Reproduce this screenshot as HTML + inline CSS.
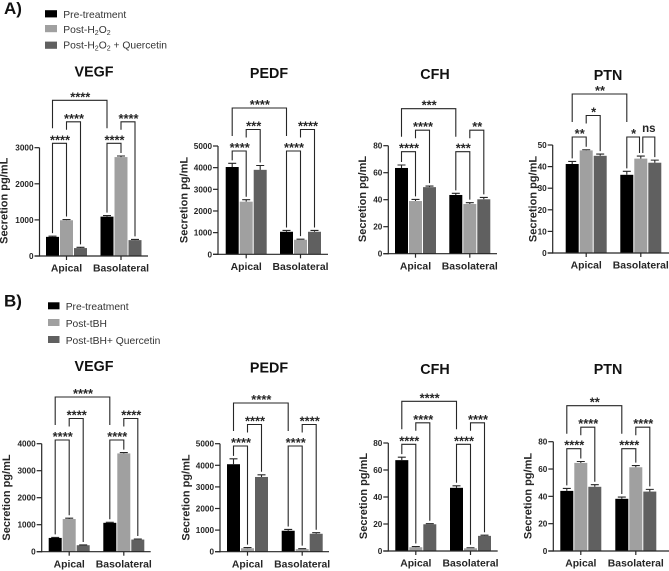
<!DOCTYPE html>
<html lang="en">
<head>
<meta charset="utf-8">
<title>Secretion charts</title>
<style>
  html, body { margin: 0; padding: 0; background: #fff; }
  #figure { display: block; filter: blur(0.3px); font-family: "Liberation Sans", sans-serif; }
</style>
</head>
<body>
<svg id="figure" xmlns="http://www.w3.org/2000/svg" width="669" height="571" viewBox="0 0 669 571">
  <rect x="0" y="0" width="669" height="571" fill="#fff"/>
  <text x="4" y="14" font-size="17" font-weight="bold" fill="#111">A)</text>
  <text x="4" y="306.5" font-size="17" font-weight="bold" fill="#111">B)</text>

  <g font-size="10.3" fill="#333">
    <g>
      <rect x="45" y="10.2" width="12" height="7.2" fill="#000"/>
      <text x="63.3" y="18">Pre-treatment</text>
    </g>
    <g>
      <rect x="45" y="25" width="12" height="7.2" fill="#a0a0a0"/>
      <text x="63.3" y="33">Post-H<tspan font-size="7" dy="2">2</tspan><tspan dy="-2">O</tspan><tspan font-size="7" dy="2">2</tspan></text>
    </g>
    <g>
      <rect x="45" y="41.6" width="12" height="7.2" fill="#606060"/>
      <text x="63.3" y="48.5">Post-H<tspan font-size="7" dy="2">2</tspan><tspan dy="-2">O</tspan><tspan font-size="7" dy="2">2</tspan><tspan dy="-2"> + Quercetin</tspan></text>
    </g>
  </g>

  <g font-size="10.3" fill="#333">
    <g>
      <rect x="48" y="302.3" width="11.5" height="7" fill="#000"/>
      <text x="65.7" y="310">Pre-treatment</text>
    </g>
    <g>
      <rect x="48" y="319" width="11.5" height="7" fill="#a0a0a0"/>
      <text x="65.7" y="326.8">Post-tBH</text>
    </g>
    <g>
      <rect x="48" y="336" width="11.5" height="7" fill="#606060"/>
      <text x="65.7" y="343.8">Post-tBH+ Quercetin</text>
    </g>
  </g>
</svg>

<script>
// Chart data
const groupLabels = ['Apical', 'Basolateral'];
const barColors = ['#000000', '#a0a0a0', '#606060'];
const yAxisTitle = 'Secretion pg/mL';

const aVegfValues = [530, 990, 220, 1090, 2740, 440];
const aVegfErrors = [20, 20, 20, 30, 30, 20];
const aVegfTicks = [0, 1000, 2000, 3000];
const aVegfStars = ['****', '****', '****', '****', '****'];

const aPedfValues = [4030, 2430, 3900, 1040, 670, 1040];
const aPedfErrors = [170, 90, 200, 60, 30, 60];
const aPedfTicks = [0, 1000, 2000, 3000, 4000, 5000];
const aPedfStars = ['****', '***', '****', '****', '****'];

const aCfhValues = [63.5, 39, 49.3, 43.5, 36.8, 40.3];
const aCfhErrors = [2.2, 1.2, 0.8, 1.2, 1, 1.4];
const aCfhTicks = [0, 20, 40, 60, 80];
const aCfhStars = ['****', '****', '***', '***', '**'];

const aPtnValues = [41.2, 47.5, 45, 36.2, 43.7, 41.8];
const aPtnErrors = [1.2, 0.3, 0.8, 1.6, 1.2, 1.2];
const aPtnTicks = [0, 10, 20, 30, 40, 50];
const aPtnStars = ['**', '*', '**', '*', 'ns'];

const bVegfValues = [510, 1210, 240, 1070, 3640, 450];
const bVegfErrors = [20, 30, 10, 20, 30, 20];
const bVegfTicks = [0, 1000, 2000, 3000, 4000];
const bVegfStars = ['****', '****', '****', '****', '****'];

const bPedfValues = [4050, 160, 3460, 970, 120, 830];
const bPedfErrors = [250, 30, 100, 60, 20, 50];
const bPedfTicks = [0, 1000, 2000, 3000, 4000, 5000];
const bPedfStars = ['****', '****', '****', '****', '****'];

const bCfhValues = [67.3, 2.8, 19.8, 46.8, 2, 11.2];
const bCfhErrors = [2.2, 0.5, 0.4, 1.5, 0.4, 0.5];
const bCfhTicks = [0, 20, 40, 60, 80];
const bCfhStars = ['****', '****', '****', '****', '****'];

const bPtnValues = [44, 64.5, 47, 38.2, 61.3, 43.5];
const bPtnErrors = [1.8, 1, 1.5, 1.3, 1.2, 1.6];
const bPtnTicks = [0, 20, 40, 60, 80];
const bPtnStars = ['****', '****', '**', '****', '****'];

const svg = document.getElementById('figure');
const NS = 'http://www.w3.org/2000/svg';
const BAR_W = 13;
const BAR_STEP = 14;
const TIER_GAP = 21.5;
const INK = '#262626';

function make(parent, tag, attrs, text) {
  const el = document.createElementNS(NS, tag);
  Object.keys(attrs).forEach(function (k) { el.setAttribute(k, attrs[k]); });
  if (text !== undefined) el.textContent = text;
  parent.appendChild(el);
  return el;
}

function drawPanel(p) {
  const g = make(svg, 'g', {});
  
  

  const top = p.ticks[p.ticks.length - 1];
  const yScale = function (v) { return p.y0 - (v / top) * (p.y0 - p.yTop); };
  const barLeft = function (i) { return (i < 3 ? p.g1 : p.g2) + (i % 3) * BAR_STEP; };
  const barCenter = function (i) { return barLeft(i) + BAR_W / 2; };

  // title
  const title = make(g, 'text', { x: p.titleX, y: p.titleY, 'text-anchor': 'middle', 'font-size': 14.3, 'font-weight': 'bold', fill: '#111' }, p.title);
  
  

  // y-axis title
  const yTitle = make(g, 'text', { transform: 'translate(' + p.yTitleX + ',' + p.yTitleY + ') rotate(-90)', 'text-anchor': 'middle', 'font-size': 11, 'font-weight': 'bold', fill: '#262626' }, yAxisTitle);
  
  

  // bars and error bars
  p.values.forEach(function (v, i) {
    const bar = make(g, 'rect', { x: barLeft(i), y: yScale(v), width: BAR_W, height: p.y0 - yScale(v), fill: barColors[i % 3] });
    
    

    const cx = barCenter(i);
    const errTop = yScale(v + p.errors[i]);
    const err = make(g, 'path', { d: 'M' + cx + ' ' + yScale(v) + 'V' + errTop + 'M' + (cx - 4) + ' ' + errTop + 'H' + (cx + 4), stroke: INK, 'stroke-width': 1.1, fill: 'none' });
    
    
  });

  // axes
  const yAxis = make(g, 'line', { x1: p.axisX, x2: p.axisX, y1: p.yTop, y2: p.y0 + 0.6, stroke: INK, 'stroke-width': 1.2 });
  
  
  const xAxis = make(g, 'line', { x1: p.axisX - 5, x2: p.axisEnd, y1: p.y0, y2: p.y0, stroke: INK, 'stroke-width': 1.2 });
  
  

  p.ticks.forEach(function (t) {
    const ty = yScale(t);
    const tick = make(g, 'line', { x1: p.axisX - 5, x2: p.axisX, y1: ty, y2: ty, stroke: INK, 'stroke-width': 1.2 });
    
    
    const label = make(g, 'text', { x: p.axisX - 6, y: ty + 3, 'text-anchor': 'end', 'font-size': 8.2, 'font-weight': 'bold', fill: '#262626' }, String(t));
    
    
  });

  groupLabels.forEach(function (name, gi) {
    const cx = barCenter(gi * 3 + 1);
    const tick = make(g, 'line', { x1: cx, x2: cx, y1: p.y0, y2: p.y0 + 4, stroke: INK, 'stroke-width': 1.2 });
    
    
    const label = make(g, 'text', { x: cx, y: p.y0 + 15.7, 'text-anchor': 'middle', 'font-size': 10.4, 'font-weight': 'bold', fill: '#262626' }, name);
    
    
  });

  // significance brackets: from bar, to bar, tier, optional leg nudges
  p.links.forEach(function (link, n) {
    const a = link[0], b = link[1], tier = link[2];
    const xa = barCenter(a) + (link[3] || 0);
    const xb = barCenter(b) + (link[4] || 0);
    const ty = p.tier0 - tier * TIER_GAP;
    const barLeg = function (i) { return yScale(p.values[i] + p.errors[i]) - 3; };
    const legA = tier === 0 ? barLeg(a) : (tier === 1 ? ty + 8 : ty + 28);
    const legB = tier === 2 ? ty + 28 : barLeg(b);
    const br = make(g, 'path', { d: 'M' + xa + ' ' + legA + 'V' + ty + 'H' + xb + 'V' + legB, stroke: INK, 'stroke-width': 1.1, fill: 'none' });
    
    

    const txt = p.stars[n];
    const isNs = txt === 'ns';
    const lab = make(g, 'text', { x: (xa + xb) / 2 + (isNs ? 0 : 0.5), y: isNs ? ty - 5 : ty + 1, 'text-anchor': 'middle', 'font-size': isNs ? 11.5 : 12.9, 'font-weight': 'bold', fill: INK }, txt);
    
    
  });
}

const standardLinks = [[0, 1, 0], [1, 2, 1], [0, 3, 2], [3, 4, 0], [4, 5, 1]];
const ptnLinks = [[0, 1, 0], [1, 2, 1], [0, 3, 2], [3, 4, 0, 0, -1.3], [4, 5, 0, 2, 0]];

drawPanel({ id: 'a-vegf', title: 'VEGF', titleX: 94, titleY: 76.7, yTitleX: 7.7, yTitleY: 200.8, values: aVegfValues, errors: aVegfErrors, ticks: aVegfTicks, stars: aVegfStars, links: standardLinks, y0: 256, yTop: 147.7, axisX: 39.5, axisEnd: 148, g1: 46, g2: 100.5, tier0: 143.3 });
drawPanel({ id: 'a-pedf', title: 'PEDF', titleX: 269, titleY: 78, yTitleX: 187.7, yTitleY: 200, values: aPedfValues, errors: aPedfErrors, ticks: aPedfTicks, stars: aPedfStars, links: standardLinks, y0: 254.3, yTop: 146, axisX: 218, axisEnd: 328, g1: 225.7, g2: 280, tier0: 151 });
drawPanel({ id: 'a-cfh', title: 'CFH', titleX: 435, titleY: 79, yTitleX: 366, yTitleY: 199, values: aCfhValues, errors: aCfhErrors, ticks: aCfhTicks, stars: aCfhStars, links: standardLinks, y0: 253.7, yTop: 145.7, axisX: 388.3, axisEnd: 497, g1: 395, g2: 449.3, tier0: 151.7 });
drawPanel({ id: 'a-ptn', title: 'PTN', titleX: 608, titleY: 80, yTitleX: 536.7, yTitleY: 199, values: aPtnValues, errors: aPtnErrors, ticks: aPtnTicks, stars: aPtnStars, links: ptnLinks, y0: 253, yTop: 145, axisX: 552.7, axisEnd: 669, g1: 565.7, g2: 620.3, tier0: 137 });
drawPanel({ id: 'b-vegf', title: 'VEGF', titleX: 94, titleY: 371, yTitleX: 10, yTitleY: 497.5, values: bVegfValues, errors: bVegfErrors, ticks: bVegfTicks, stars: bVegfStars, links: standardLinks, y0: 551.7, yTop: 443.7, axisX: 41.7, axisEnd: 150.7, g1: 48.7, g2: 103.3, tier0: 440 });
drawPanel({ id: 'b-pedf', title: 'PEDF', titleX: 269, titleY: 372.7, yTitleX: 189.3, yTitleY: 497.5, values: bPedfValues, errors: bPedfErrors, ticks: bPedfTicks, stars: bPedfStars, links: standardLinks, y0: 551.7, yTop: 443.7, axisX: 220, axisEnd: 329, g1: 227, g2: 281.7, tier0: 446 });
drawPanel({ id: 'b-cfh', title: 'CFH', titleX: 435, titleY: 374, yTitleX: 367, yTitleY: 496, values: bCfhValues, errors: bCfhErrors, ticks: bCfhTicks, stars: bCfhStars, links: standardLinks, y0: 551, yTop: 443, axisX: 388.3, axisEnd: 497.7, g1: 395.3, g2: 450, tier0: 444.3 });
drawPanel({ id: 'b-ptn', title: 'PTN', titleX: 608, titleY: 374, yTitleX: 531.7, yTitleY: 496, values: bPtnValues, errors: bPtnErrors, ticks: bPtnTicks, stars: bPtnStars, links: standardLinks, y0: 551, yTop: 441.7, axisX: 553.3, axisEnd: 669, g1: 560.3, g2: 615.3, tier0: 448.7 });
</script>
</body>
</html>
